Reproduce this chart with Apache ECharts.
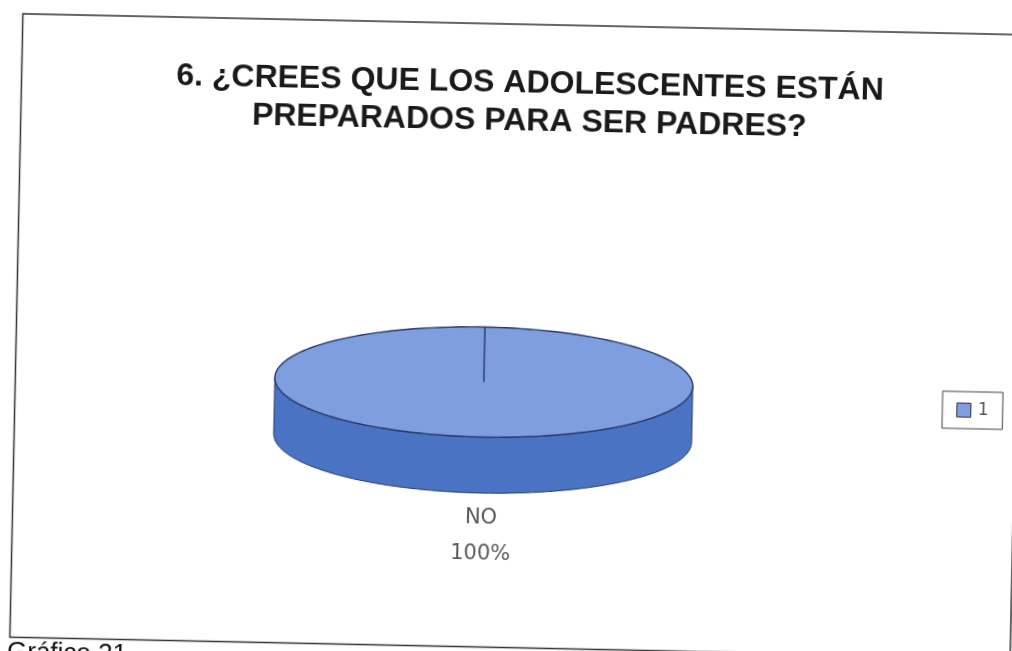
<!DOCTYPE html>
<html>
<head>
<meta charset="utf-8">
<script src="https://cdn.jsdelivr.net/npm/echarts@6/dist/echarts.min.js"></script>
<style>
  html, body { margin: 0; padding: 0; width: 1012px; height: 651px; overflow: hidden; background: #fff; }
  /* la hoja escaneada esta un poco girada */
  #chart {
    position: absolute; left: -20px; top: -20px;
    width: 1052px; height: 700px;
    transform: rotate(1.2deg);
    transform-origin: 526px 345.5px;
  }
</style>
</head>
<body>
<div id="chart"></div>
<script>
const titleLines = ['6. ¿CREES QUE LOS ADOLESCENTES ESTÁN', 'PREPARADOS PARA SER PADRES?'];
const categories = ['NO'];
const values = [100];
const seriesName = '1';
const caption = 'Gráfico 21';

const topColor = '#7f9ee0';
const sideColor = '#4a73c4';
const edgeColor = '#27396a';

// elipse de la torta (coordenadas del canvas)
const cx = 505, cy = 402.5, rx = 209, ry = 55, depth = 56;

function ellipsePt(deg, dy) {
  const r = deg * Math.PI / 180;
  return [cx + rx * Math.cos(r), cy - ry * Math.sin(r) + dy];
}

function arcPts(from, to, dy) {
  const pts = [];
  const steps = Math.max(2, Math.ceil(Math.abs(to - from) / 2));
  for (let k = 0; k <= steps; k++) {
    pts.push(ellipsePt(from + (to - from) * k / steps, dy));
  }
  return pts;
}

const chart = echarts.init(document.getElementById('chart'));

chart.setOption({
  backgroundColor: '#fff',
  animation: false,
  title: {
    text: titleLines.join('\n'),
    left: 540,
    top: 79,
    textAlign: 'center',
    textStyle: {
      fontFamily: 'Liberation Sans',
      fontSize: 32,
      fontWeight: 'bold',
      lineHeight: 38,
      color: '#1a1a1a'
    }
  },
  legend: {
    data: [seriesName],
    left: 964,
    top: 402,
    orient: 'vertical',
    padding: [10, 14],
    backgroundColor: '#fff',
    borderColor: '#444',
    borderWidth: 1,
    borderRadius: 0,
    icon: 'rect',
    itemWidth: 14,
    itemHeight: 14,
    itemGap: 4,
    itemStyle: { color: topColor, borderColor: '#333', borderWidth: 1 },
    textStyle: { fontFamily: 'DejaVu Sans', fontSize: 17, color: '#555', padding: [0, 0, 0, 2] }
  },
  graphic: [
    {
      type: 'rect',
      shape: { x: 36.5, y: 44, width: 1000.5, height: 623.4 },
      style: { fill: 'none', stroke: '#333', lineWidth: 1.5 },
      silent: true
    },
    {
      type: 'text',
      x: 34,
      y: 670,
      style: {
        text: caption,
        font: '26px "Liberation Sans"',
        fill: '#111'
      },
      silent: true
    }
  ],
  series: [
    {
      type: 'custom',
      name: seriesName,
      coordinateSystem: 'none',
      itemStyle: { color: topColor },
      data: values.map((v, i) => ({ name: categories[i], value: [v] })),
      renderItem(params, api) {
        const i = params.dataIndex;
        const total = values.reduce((a, b) => a + b, 0);
        let before = 0;
        for (let j = 0; j < i; j++) before += values[j];
        const v = api.value(0);
        // Excel arranca a las 12 y gira en sentido horario
        const a0 = 90 - 360 * before / total;
        const a1 = a0 - 360 * v / total;

        const children = [];
        // costado visible (mitad delantera)
        for (let k = -1; k <= 1; k++) {
          const lo = -180 + 360 * k, hi = 360 * k;
          const s = Math.max(a1, lo), e = Math.min(a0, hi);
          if (s < e) {
            const pts = arcPts(e, s, 0).concat(arcPts(s, e, depth));
            children.push({
              type: 'polygon',
              shape: { points: pts },
              style: { fill: sideColor, stroke: edgeColor, lineWidth: 1 }
            });
          }
        }
        // cara superior
        children.push({
          type: 'polygon',
          shape: { points: [[cx, cy]].concat(arcPts(a0, a1, 0)) },
          style: { fill: topColor, stroke: edgeColor, lineWidth: 1.4 }
        });
        // etiqueta
        children.push({
          type: 'text',
          style: {
            text: categories[i] + '\n' + Math.round(v / total * 100) + '%',
            x: cx,
            y: cy + 154,
            align: 'center',
            verticalAlign: 'middle',
            font: '21px "DejaVu Sans"',
            lineHeight: 36,
            fill: '#5a5a5a'
          }
        });
        return { type: 'group', children };
      }
    }
  ]
});
</script>
</body>
</html>
